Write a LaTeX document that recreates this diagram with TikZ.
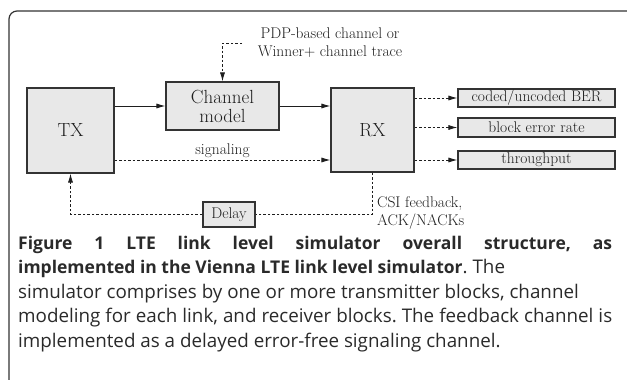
\documentclass[tikz,border=0pt]{standalone}
\usepackage{fontspec}
\newfontfamily\capfont{Open Sans}
\usetikzlibrary{arrows.meta}
\definecolor{boxfill}{HTML}{E8E8E8}
\definecolor{boxline}{HTML}{333333}
\definecolor{inkc}{HTML}{1E1E1E}
\definecolor{captext}{HTML}{2A2A2A}
\newcommand{\capbold}[1]{{\fontsize{17.5}{24.5}\selectfont\bfseries #1}}
\tikzset{
  blockbox/.style={draw=boxline, fill=boxfill, line width=1.1pt, inner sep=0pt, text=inkc},
  bigtext/.style={font=\fontsize{19}{19}\selectfont},
  smalltext/.style={font=\fontsize{15.5}{18}\selectfont, text=inkc},
  tip/.style={-{Latex[length=9pt,width=5pt]}},
  solidlink/.style={draw=inkc, line width=0.9pt, tip},
  dotlink/.style={draw=inkc, line width=0.9pt, dash pattern=on 2.5pt off 2pt},
}
\begin{document}
\begin{tikzpicture}[x=1pt,y=-1pt]
\useasboundingbox (0,0) rectangle (627,380);
% outer frame
\draw[boxline, line width=1.2pt, rounded corners=8pt] (9,382) -- (9,11) -- (629,11);

% blocks
\node[blockbox, bigtext, minimum width=87pt, minimum height=85pt] (tx) at (70.5,130.5) {TX};
\node[blockbox, minimum width=113pt, minimum height=48pt, align=center,
      font=\fontsize{19}{19}\selectfont] (ch) at (222.5,106) {Channel\\model};
\node[blockbox, bigtext, minimum width=83pt, minimum height=84pt] (rx) at (372.5,130) {RX};
\node[blockbox, smalltext, minimum width=157pt, minimum height=18pt] (ber) at (536.5,98) {coded/uncoded BER};
\node[blockbox, smalltext, minimum width=157pt, minimum height=19pt] (bler) at (536.5,127.5) {block error rate};
\node[blockbox, smalltext, minimum width=157pt, minimum height=18pt] (thr) at (536.5,160) {throughput};
\node[blockbox, smalltext, minimum width=52pt, minimum height=25pt] (delay) at (229,214.5) {Delay};

% texts
\node[smalltext, align=center, inner sep=0pt] (pdptext) at (330,43) {PDP-based channel or\\Winner+ channel trace};
\node[smalltext, align=left, inner sep=0pt, anchor=west] (csitext) at (377,213) {CSI feedback,\\ACK/NACKs};
\coordinate (pdp) at (242,43);

% connectors
\draw[solidlink] (tx.east |- ch.west) -- (ch.west);
\draw[solidlink] (ch.east) -- (ch.east -| rx.west);
\draw[dotlink, tip] (pdp) -- (pdp -| ch.north) -- (ch.north);
\draw[dotlink, tip] (tx.east |- thr.west) -- node[smalltext, above, inner sep=2pt] (siglabel) {signaling} (rx.west |- thr.west);
\draw[dotlink, tip] (rx.east |- ber.west) -- (ber.west);
\draw[dotlink, tip] (rx.east |- bler.west) -- (bler.west);
\draw[dotlink, tip] (rx.east |- thr.west) -- (thr.west);
\draw[dotlink] (rx.south) -- (rx.south |- delay.east) -- (delay.east);
\draw[dotlink, tip] (delay.west) -- (delay.west -| tx.south) -- (tx.south);

% caption
\node[anchor=north west, inner sep=0pt, text width=594pt, align=justify, text=captext,
      font=\capfont\fontsize{18.8}{24.5}\selectfont\frenchspacing] (caption) at (18,236)
{\capbold{Figure 1 LTE link level simulator overall structure, as}\linebreak
\capbold{implemented in the Vienna LTE link level simulator}. The\newline
simulator comprises by one or more transmitter blocks, channel\newline
modeling for each link, and receiver blocks. The feedback channel is\linebreak
implemented as a delayed error-free signaling channel.};
\end{tikzpicture}
\end{document}
